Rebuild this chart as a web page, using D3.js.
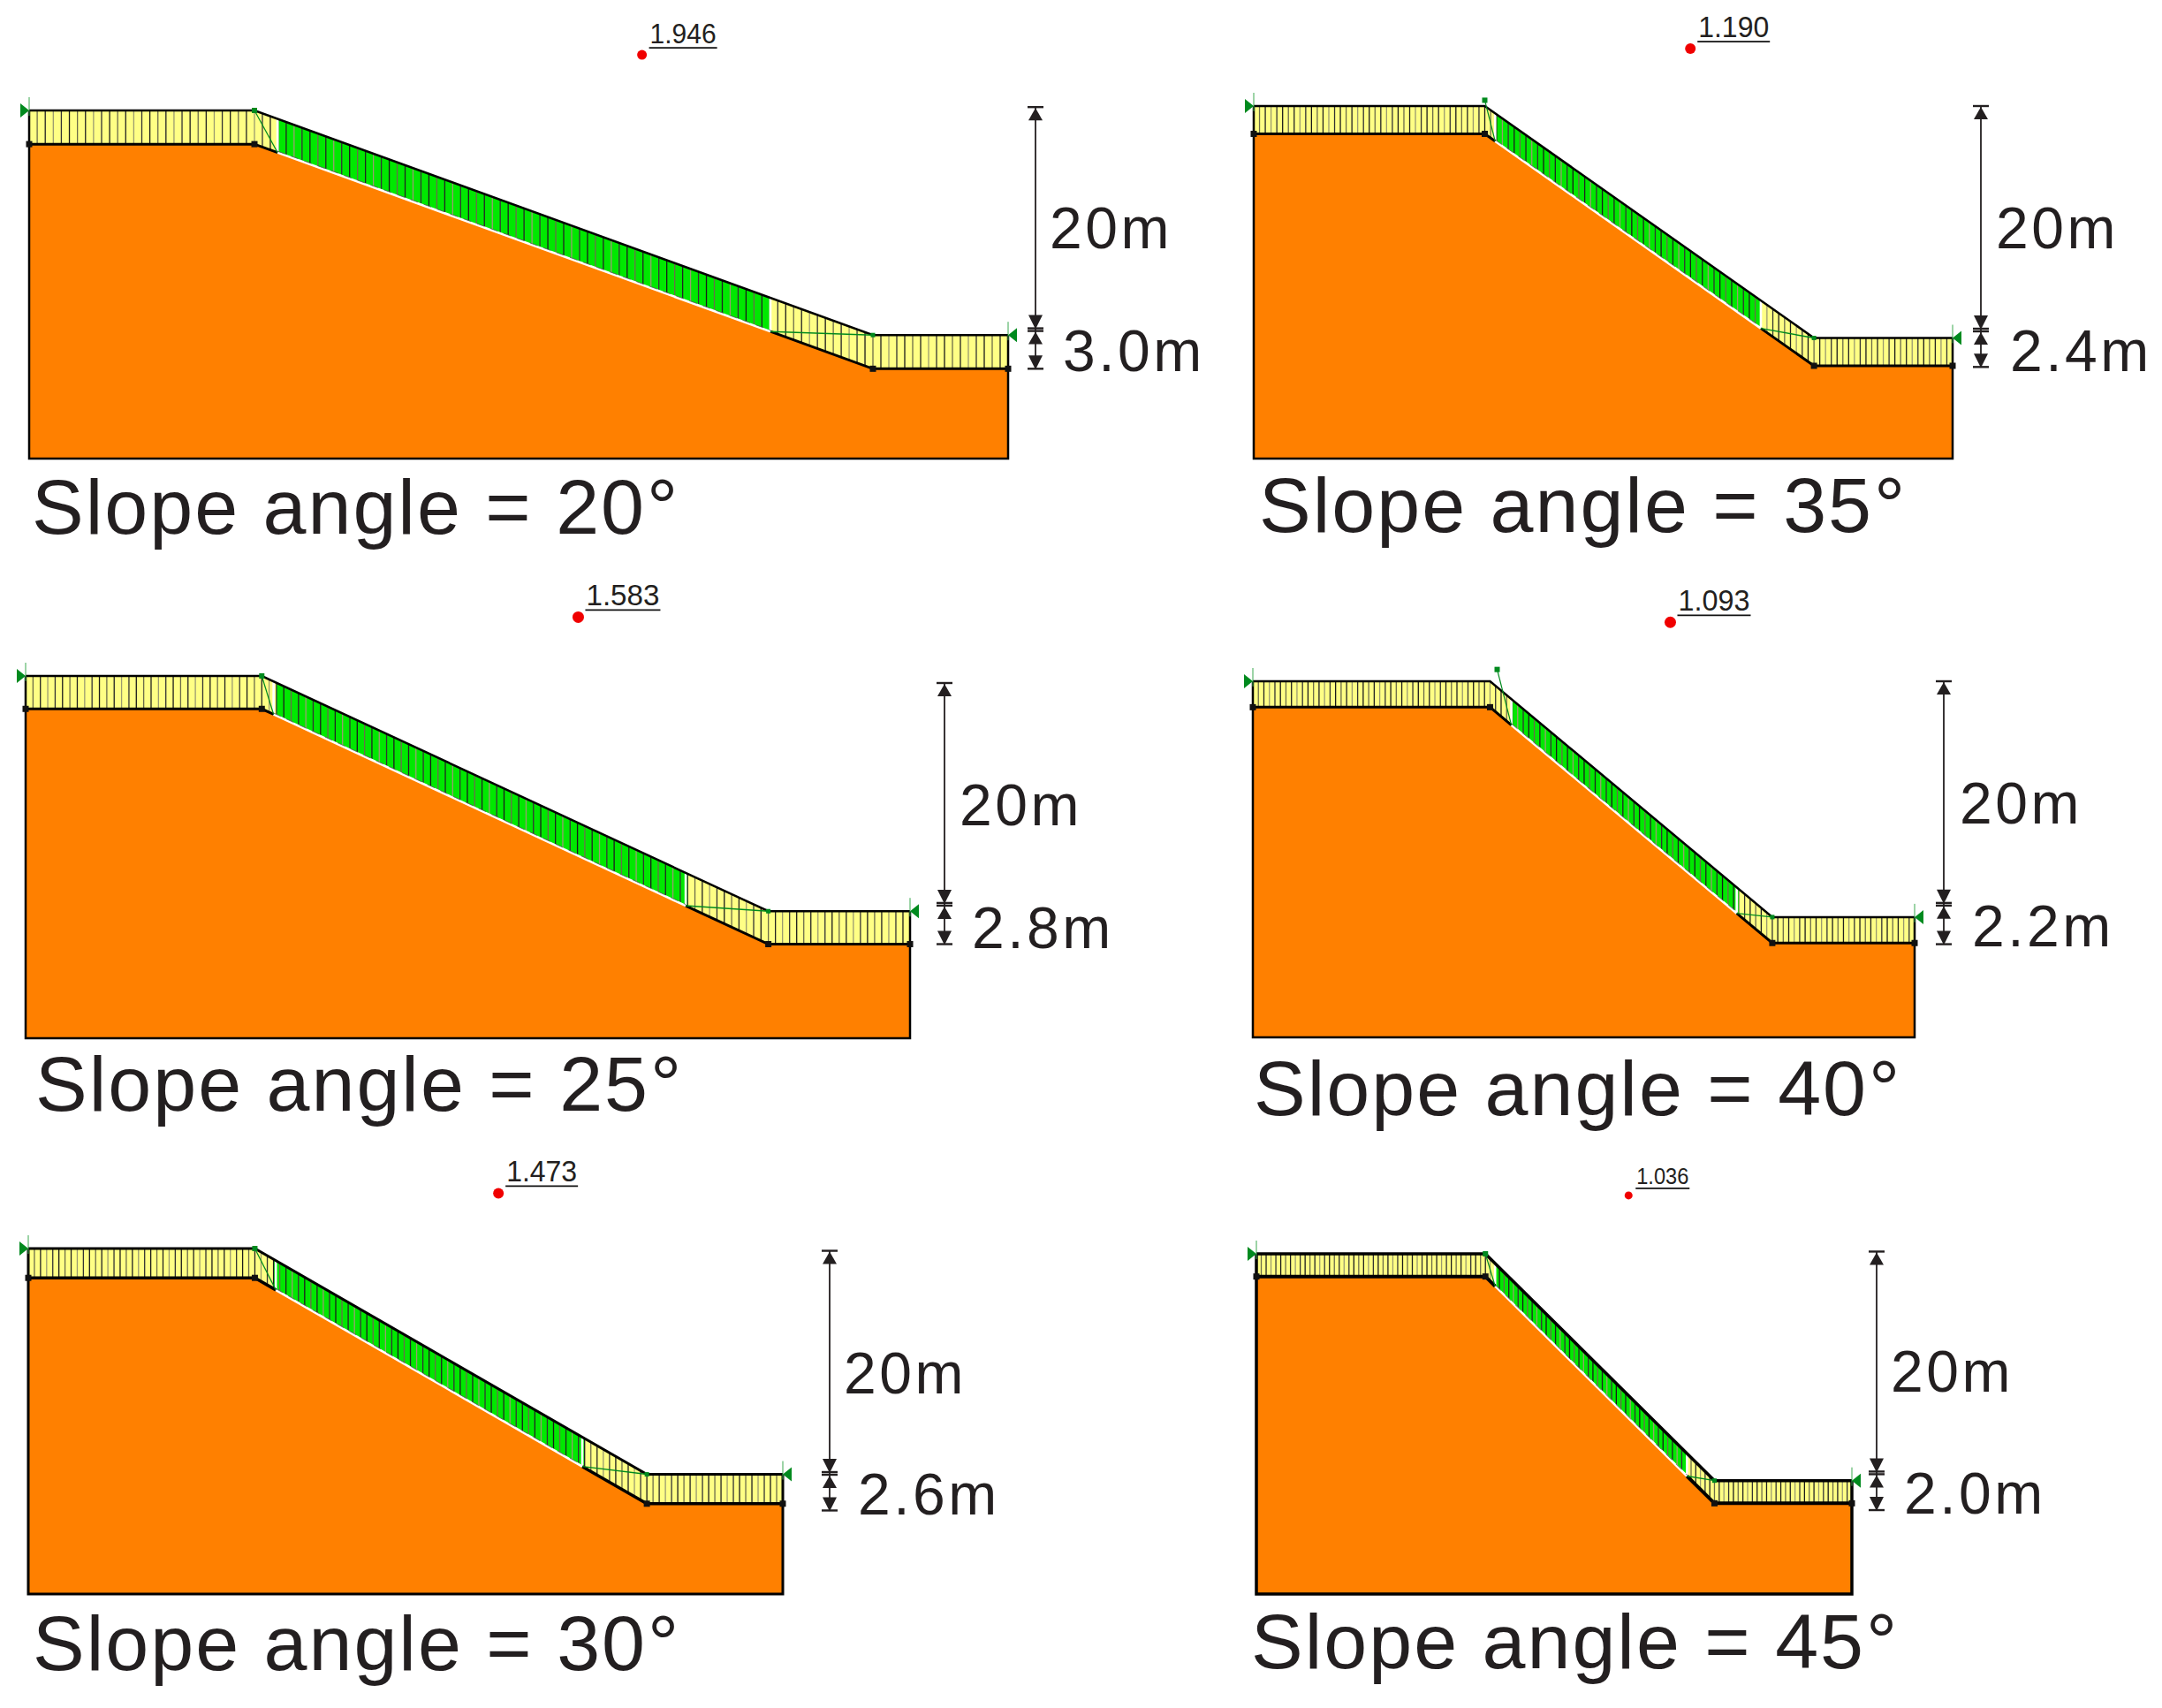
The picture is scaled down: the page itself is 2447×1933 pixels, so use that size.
<!DOCTYPE html>
<html>
<head>
<meta charset="utf-8">
<script src="https://cdnjs.cloudflare.com/ajax/libs/d3/7.8.5/d3.min.js"></script>
<style>
body { margin: 0; background: #fff; }
text { font-family: "Liberation Sans", Arial, sans-serif; fill: #231f20; }
</style>
</head>
<body>
<script>
"use strict";
// model values, all metres (x from left edge, elevation from base)
const angles = [20, 35, 25, 40, 30, 45];
const factors = ["1.946", "1.190", "1.583", "1.093", "1.473", "1.036"];
const thickLabels = ["3.0m", "2.4m", "2.8m", "2.2m", "2.6m", "2.0m"];
const thickness = [3.0, 2.4, 2.8, 2.2, 2.6, 2.0];
const crestX = [20, 20, 20, 20, 20, 20];
const toeX = [74.9, 48.5, 62.9, 43.8, 54.6, 40];
const endX = [86.9, 60.5, 74.9, 55.8, 66.6, 52];
const crestElev = [28, 28, 28, 28, 28, 28];
const toeElev = [8, 8, 8, 8, 8, 8];
const greenFrom = [22.05, 20.9, 21.0, 21.8, 21.85, 20.85];
const greenTo = [65.8, 43.9, 55.9, 40.8, 48.9, 37.6];
const centerX = [54.4, 37.8, 46.8, 35.2, 41.5, 32.5];
const centerY = [35.95, 35.35, 35.8, 35.2, 35.5, 35.15];
const slipTopX = [20, 20, 20, 20.6, 20, 20];
const slipTopY = [31, 30.9, 30.8, 31.2, 30.6, 30];
const dimTop = [31.3, 30.4, 30.2, 30.2, 30.4, 30.2];
const dimMid = [11.6, 11.2, 11.5, 11.4, 10.8, 10.8];
const dimBottom = [8.0, 7.9, 8.0, 7.9, 7.4, 7.4];
const crestSlices = [28, 40, 32, 43, 37, 47];
const slopeSlices = [78, 56, 69, 51, 63, 49];
const toeSlices = [17, 24, 20, 26, 22, 29];

// page layout, pixels
const frameLeft = [33, 1419, 29, 1418, 32, 1422];
const frameRight = [1141, 2210, 1030, 2167, 886, 2096];
const frameBottom = [519, 519, 1175, 1174, 1804, 1804];
const frameTop = [125, 120, 765, 771, 1413, 1419];
const dimX = [1172, 2242, 1069, 2200, 939, 2124];
const titlePos = [[36, 604], [1425, 602], [40, 1257], [1419, 1262], [37, 1890], [1416, 1888]];
const heightPos = [[1188, 281], [2259, 281], [1086, 934], [2218, 932], [955, 1577], [2140, 1575]];
const thickPos = [[1203, 420], [2275, 420], [1100, 1073], [2232, 1071], [971, 1714], [2155, 1713]];
const factorSize = [32, 33, 33, 33, 33, 25];
const factorWidth = [75, 80, 83, 81, 80, 59];
const dotRadius = [5.5, 6, 6.5, 6.5, 6, 4.5];
const outlineWidth = [2.5, 2.5, 2.5, 2.5, 3, 3.5];

const sliceInk = ["#1a1a1a", "#6b6b4a", "#222", "#9a9a70", "#333"];
const orange = "#ff8000", yellow = "#ffff85", green = "#00e800", darkGreen = "#008a1e";

const svg = d3.select("body").append("svg")
    .attr("width", 2447)
    .attr("height", 1933);

angles.forEach(function(angle, i) { drawPanel(i, angle); });

function drawPanel(i, angle) {
    const t = thickness[i], cx = crestX[i], tx = toeX[i], ex = endX[i];
    const cy = crestElev[i], ty = toeElev[i];

    const x = d3.scaleLinear().domain([0, ex]).range([frameLeft[i], frameRight[i]]);
    const y = d3.scaleLinear().domain([0, cy + t]).range([frameBottom[i], frameTop[i]]);
    const interfaceAt = d3.scaleLinear().domain([cx, tx]).range([cy, ty]).clamp(true);
    const line = d3.line().x(d => x(d[0])).y(d => y(d[1]));

    const g = svg.append("g");

    // soil body
    g.append("path")
        .attr("d", line([[0, 0], [0, cy], [cx, cy], [tx, ty], [ex, ty], [ex, 0]]) + "Z")
        .attr("fill", orange);

    // slice edges along the three parts of the soil layer
    const edges = d3.range(crestSlices[i]).map(k => cx * k / crestSlices[i])
        .concat(d3.range(slopeSlices[i]).map(k => cx + (tx - cx) * k / slopeSlices[i]))
        .concat(d3.range(toeSlices[i] + 1).map(k => tx + (ex - tx) * k / toeSlices[i]));
    const slices = d3.pairs(edges);

    g.append("g").selectAll("path")
        .data(slices)
        .enter()
        .append("path")
            .attr("d", d => line([
                [d[0], interfaceAt(d[0]) + t], [d[1], interfaceAt(d[1]) + t],
                [d[1], interfaceAt(d[1])], [d[0], interfaceAt(d[0])]
            ]) + "Z")
            .attr("fill", d => {
                const mid = (d[0] + d[1]) / 2;
                return mid > greenFrom[i] && mid < greenTo[i] ? green : yellow;
            })
            .attr("stroke", "none");

    g.append("g").selectAll("line")
        .data(edges)
        .enter()
        .append("line")
            .attr("x1", d => x(d))
            .attr("x2", d => x(d))
            .attr("y1", d => y(interfaceAt(d) + t))
            .attr("y2", d => y(interfaceAt(d)))
            .attr("stroke", (d, k) => sliceInk[k % sliceInk.length])
            .attr("stroke-width", 1.3);

    // white seam under and beside the sliding band
    const seam = [[greenFrom[i], interfaceAt(greenFrom[i]) + t], [greenFrom[i], interfaceAt(greenFrom[i])],
                  [greenTo[i], interfaceAt(greenTo[i])], [greenTo[i], interfaceAt(greenTo[i]) + t]];
    g.append("path")
        .attr("d", line(seam))
        .attr("fill", "none")
        .attr("stroke", "#fff")
        .attr("stroke-width", 2.6);
    g.append("path")
        .attr("d", line(seam.slice(1, 3)))
        .attr("fill", "none")
        .attr("stroke", "#555")
        .attr("stroke-width", 0.8)
        .attr("stroke-dasharray", "9 7")
        .attr("transform", "translate(0,-1.5)");

    // frame and layer lines
    const outline = outlineWidth[i];
    g.append("path")
        .attr("d", line([[0, cy + t], [0, 0], [ex, 0], [ex, ty + t]]))
        .attr("fill", "none")
        .attr("stroke", "#000")
        .attr("stroke-width", outline);
    g.append("path")
        .attr("d", line([[0, cy + t], [cx, cy + t], [tx, ty + t], [ex, ty + t]]))
        .attr("fill", "none")
        .attr("stroke", "#000")
        .attr("stroke-width", outline);
    g.append("path")
        .attr("d", line([[0, cy], [cx, cy], [greenFrom[i], interfaceAt(greenFrom[i])]]))
        .attr("fill", "none")
        .attr("stroke", "#000")
        .attr("stroke-width", outline + 0.5);
    g.append("path")
        .attr("d", line([[greenTo[i], interfaceAt(greenTo[i])], [tx, ty], [ex, ty]]))
        .attr("fill", "none")
        .attr("stroke", "#000")
        .attr("stroke-width", outline + 0.5);

    // vertex points
    g.append("g").selectAll("rect")
        .data([[0, cy], [cx, cy], [tx, ty], [ex, ty]])
        .enter()
        .append("rect")
            .attr("x", d => x(d[0]) - 3.5)
            .attr("y", d => y(d[1]) - 3.5)
            .attr("width", 7)
            .attr("height", 7)
            .attr("fill", "#111");

    // slip surface ends
    g.append("path")
        .attr("d", line([[slipTopX[i], slipTopY[i]], [greenFrom[i], interfaceAt(greenFrom[i])]]))
        .attr("fill", "none")
        .attr("stroke", darkGreen)
        .attr("stroke-width", 1.2);
    g.append("path")
        .attr("d", line([[tx, ty + t], [greenTo[i], interfaceAt(greenTo[i])]]))
        .attr("fill", "none")
        .attr("stroke", darkGreen)
        .attr("stroke-width", 1.4);
    g.append("rect")
        .attr("x", x(slipTopX[i]) - 3)
        .attr("y", y(slipTopY[i]) - 3)
        .attr("width", 6)
        .attr("height", 6)
        .attr("fill", darkGreen);
    g.append("rect")
        .attr("x", x(tx) - 2.5)
        .attr("y", y(ty + t) - 2.5)
        .attr("width", 5)
        .attr("height", 5)
        .attr("fill", darkGreen);

    // green limit markers
    [[0, cy + t, -1], [ex, ty + t, 1]].forEach(function(m) {
        const mx = x(m[0]), my = y(m[1]);
        g.append("path")
            .attr("d", `M${mx},${my}L${mx + m[2] * 10},${my - 8}L${mx + m[2] * 10},${my + 8}Z`)
            .attr("fill", darkGreen);
        g.append("line")
            .attr("x1", mx).attr("x2", mx)
            .attr("y1", my - 15).attr("y2", my + 6)
            .attr("stroke", "#3aa84f")
            .attr("stroke-width", 1);
    });

    // critical centre with factor of safety
    const dx = x(centerX[i]), dy = y(centerY[i]);
    g.append("circle")
        .attr("cx", dx)
        .attr("cy", dy)
        .attr("r", dotRadius[i])
        .attr("fill", "#f00000");
    g.append("text")
        .attr("x", dx + 9)
        .attr("y", dy - 13)
        .attr("font-size", factorSize[i])
        .attr("textLength", factorWidth[i])
        .attr("lengthAdjust", "spacingAndGlyphs")
        .text(factors[i]);
    g.append("line")
        .attr("x1", dx + 8)
        .attr("x2", dx + 10 + factorWidth[i])
        .attr("y1", dy - 8)
        .attr("y2", dy - 8)
        .attr("stroke", "#111")
        .attr("stroke-width", 1.8);

    // height dimensions
    const ax = dimX[i];
    g.append("line")
        .attr("x1", ax).attr("x2", ax)
        .attr("y1", y(dimTop[i])).attr("y2", y(dimBottom[i]))
        .attr("stroke", "#231f20")
        .attr("stroke-width", 1.8);
    const joint = y(dimMid[i]);
    [[y(dimTop[i]), 1], [joint, -1], [joint + 3, 1], [y(dimBottom[i]), -1]].forEach(function(a) {
        const ay = a[0], dir = a[1];
        g.append("path")
            .attr("d", `M${ax},${ay + 1}L${ax - 8},${ay + dir * 15}L${ax + 8},${ay + dir * 15}Z`)
            .attr("fill", "#231f20");
        g.append("line")
            .attr("x1", ax - 9).attr("x2", ax + 9)
            .attr("y1", ay).attr("y2", ay)
            .attr("stroke", "#231f20")
            .attr("stroke-width", 2.4);
    });

    g.append("text")
        .attr("x", heightPos[i][0])
        .attr("y", heightPos[i][1])
        .attr("font-size", 66)
        .attr("letter-spacing", 3.5)
        .text("20m");
    g.append("text")
        .attr("x", thickPos[i][0])
        .attr("y", thickPos[i][1])
        .attr("font-size", 66)
        .attr("letter-spacing", 3.5)
        .text(thickLabels[i]);
    const title = g.append("text")
        .attr("x", titlePos[i][0])
        .attr("y", titlePos[i][1])
        .attr("font-size", 88)
        .attr("letter-spacing", 2)
        .text(`Slope angle = ${angle}`);
    title.append("tspan")
        .attr("dx", 1)
        .text("°");
}
</script>
</body>
</html>
